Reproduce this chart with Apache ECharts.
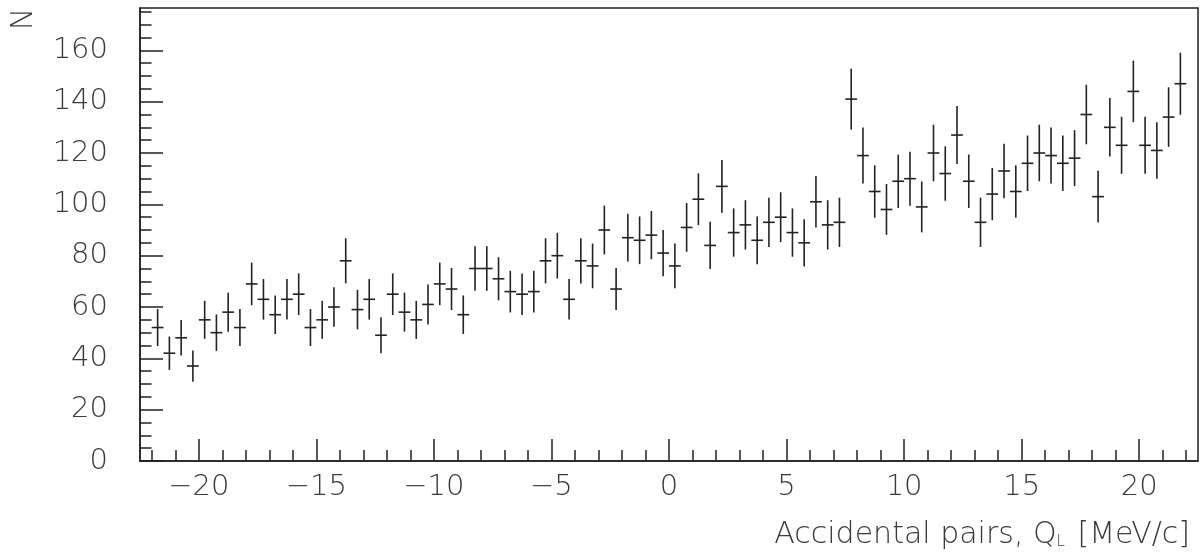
<!DOCTYPE html>
<html>
<head>
<meta charset="utf-8">
<script src="https://cdn.jsdelivr.net/npm/echarts@6/dist/echarts.min.js"></script>
<style>
html,body{margin:0;padding:0;background:#fff;}
#chart{width:1201px;height:553px;}
</style>
</head>
<body>
<div id="chart"></div>
<script>
// histogram: 88 bins of 0.5 MeV/c from -22 to 22
var binLow = -22;
var binWidth = 0.5;
var counts = [52,42,48,37,55,50,58,52,69,63,57,63,65,52,55,60,78,59,63,49,
	65,58,55,61,69,67,57,75,75,71,66,65,66,78,80,63,78,76,90,67,
	87,86,88,81,76,91,102,84,107,89,92,86,93,95,89,85,101,92,93,141,
	119,105,98,109,110,99,120,112,127,109,93,104,113,105,116,120,119,116,118,135,
	103,130,123,144,123,121,134,147];
var errors = [7.2,6.5,6.9,6.1,7.4,7.1,7.6,7.2,8.3,7.9,7.5,7.9,8.1,7.2,7.4,7.7,8.8,7.7,7.9,7.0,
	8.1,7.6,7.4,7.8,8.3,8.2,7.5,8.7,8.7,8.4,8.1,8.1,8.1,8.8,8.9,7.9,8.8,8.7,9.5,8.2,
	9.3,9.3,9.4,9.0,8.7,9.5,10.1,9.2,10.3,9.4,9.6,9.3,9.6,9.7,9.4,9.2,10.0,9.6,9.6,11.9,
	10.9,10.2,9.9,10.4,10.5,9.9,11.0,10.6,11.3,10.4,9.6,10.2,10.6,10.2,10.8,11.0,10.9,10.8,10.9,11.6,
	10.1,11.4,11.1,12.0,11.1,11.0,11.6,12.1];
var xMajorTicks = [-20,-15,-10,-5,0,5,10,15,20];
var xMinorTicks = [-22,-21,-20,-19,-18,-17,-16,-15,-14,-13,-12,-11,-10,-9,-8,-7,-6,-5,-4,-3,-2,-1,
	0,1,2,3,4,5,6,7,8,9,10,11,12,13,14,15,16,17,18,19,20,21,22];
var yMajorTicks = [0,20,40,60,80,100,120,140,160];
var yMinorTicks = [0,5,10,15,20,25,30,35,40,45,50,55,60,65,70,75,80,85,90,95,100,
	105,110,115,120,125,130,135,140,145,150,155,160,165,170,175];

var ink = '#222';
var txt = '#3a3a3a';
var font = 'DejaVu Sans';

var points = [];
for (var i = 0; i < counts.length; i++) {
	points.push([binLow + binWidth * (i + 0.5), counts[i], errors[i]]);
}

function renderItem(params, api) {
	var x = api.value(0), y = api.value(1), e = api.value(2);
	var lo = api.coord([x, y - e]);
	var hi = api.coord([x, y + e]);
	var l = api.coord([x - binWidth / 2, y]);
	var r = api.coord([x + binWidth / 2, y]);
	var st = {stroke: ink, lineWidth: 1.6};
	return {
		type: 'group',
		children: [
			{type: 'line', shape: {x1: lo[0], y1: lo[1], x2: hi[0], y2: hi[1]}, style: st},
			{type: 'line', shape: {x1: l[0], y1: l[1], x2: r[0], y2: r[1]}, style: st}
		]
	};
}

var myChart = echarts.init(document.getElementById('chart'));
var option = {
	animation: false,
	grid: {
		left: 140, right: 3, top: 8, bottom: 92,
		containLabel: false,
		outerBoundsMode: 'none',
		show: true,
		borderColor: ink,
		borderWidth: 1.5
	},
	title: {
		text: 'Accidental pairs, Q{sub|L} [MeV/c]',
		right: 6,
		top: 515,
		textStyle: {
			fontFamily: font, fontSize: 30, fontWeight: 200, color: txt,
			rich: {
				sub: {fontFamily: font, fontSize: 15, fontWeight: 200, color: txt, verticalAlign: 'bottom', padding: [13, 3, 0, 0]}
			}
		}
	},
	graphic: [{
		type: 'text',
		x: 24, y: 19,
		rotation: Math.PI / 2,
		style: {text: 'N', fontFamily: font, fontSize: 30, fontWeight: 200, fill: txt, align: 'center', verticalAlign: 'middle'}
	}],
	xAxis: [{
		type: 'value', min: -22.5, max: 22.5,
		axisLine: {show: true, onZero: false, lineStyle: {color: ink, width: 1.5}},
		axisTick: {show: true, inside: true, length: 22, customValues: xMajorTicks, lineStyle: {color: ink, width: 1.5}},
		axisLabel: {
			customValues: xMajorTicks, margin: 12,
			fontFamily: font, fontSize: 29, fontWeight: 200, color: txt,
			formatter: function (v) { return v < 0 ? '\u2212' + (-v) : '' + v; }
		},
		splitLine: {show: false}
	}, {
		type: 'value', min: -22.5, max: 22.5, position: 'bottom',
		axisLine: {show: false, onZero: false},
		axisTick: {show: true, inside: true, length: 11, customValues: xMinorTicks, lineStyle: {color: ink, width: 1.5}},
		axisLabel: {show: false},
		splitLine: {show: false}
	}],
	yAxis: [{
		type: 'value', min: 0, max: 176.5,
		axisLine: {show: true, onZero: false, lineStyle: {color: ink, width: 1.5}},
		axisTick: {show: true, inside: true, length: 23, customValues: yMajorTicks, lineStyle: {color: ink, width: 1.5}},
		axisLabel: {
			customValues: yMajorTicks, margin: 32,
			fontFamily: font, fontSize: 29, fontWeight: 200, color: txt
		},
		splitLine: {show: false}
	}, {
		type: 'value', min: 0, max: 176.5, position: 'left',
		axisLine: {show: false, onZero: false},
		axisTick: {show: true, inside: true, length: 11.5, customValues: yMinorTicks, lineStyle: {color: ink, width: 1.5}},
		axisLabel: {show: false},
		splitLine: {show: false}
	}],
	series: [{
		type: 'custom',
		xAxisIndex: 0, yAxisIndex: 0,
		renderItem: renderItem,
		encode: {x: 0, y: 1},
		data: points,
		clip: true
	}]
};
myChart.setOption(option);
</script>
</body>
</html>
